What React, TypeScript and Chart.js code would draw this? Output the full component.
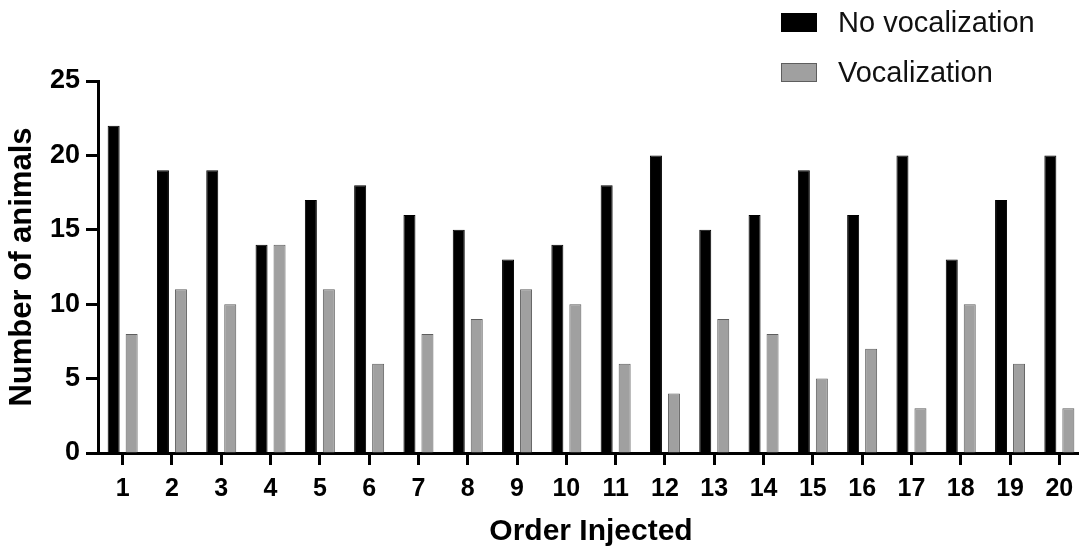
import React, { useEffect, useRef } from "react";
import { Chart, registerables } from "chart.js";

Chart.register(...registerables);

const categories = ["1","2","3","4","5","6","7","8","9","10","11","12","13","14","15","16","17","18","19","20"];
const noVocalization = [22,19,19,14,17,18,16,15,13,14,18,20,15,16,19,16,20,13,17,20];
const vocalization = [8,11,10,14,11,6,8,9,11,10,6,4,9,8,5,7,3,10,6,3];
const seriesNames = ["No vocalization", "Vocalization"];
const yTicks = [0, 5, 10, 15, 20, 25];

const FONT = "'Liberation Sans', Arial, Helvetica, sans-serif";

const legendPlugin = {
  id: "customLegend",
  afterDraw(chart: any) {
    const ctx = chart.ctx;
    ctx.save();
    chart.data.datasets.forEach((ds: any, i: number) => {
      const y = 13 + i * 50;
      ctx.fillStyle = ds.backgroundColor;
      ctx.fillRect(781, y, 36, 19);
      ctx.strokeStyle = ds.borderColor;
      ctx.lineWidth = 1;
      ctx.strokeRect(781.5, y + 0.5, 35, 18);
      ctx.fillStyle = "#111";
      ctx.font = `29px ${FONT}`;
      ctx.textBaseline = "middle";
      ctx.textAlign = "left";
      ctx.fillText(ds.label, 838, y + 11);
    });
    ctx.restore();
  },
};

export default function App() {
  const ref = useRef<HTMLCanvasElement>(null);
  useEffect(() => {
    if (!ref.current) return;
    const chart = new Chart(ref.current, {
      type: "bar",
      data: {
        labels: categories,
        datasets: [
          {
            label: seriesNames[0],
            data: noVocalization,
            backgroundColor: "#000000",
            borderColor: "#000000",
            borderWidth: 1,
          },
          {
            label: seriesNames[1],
            data: vocalization,
            backgroundColor: "#a0a0a0",
            borderColor: "#5e5e5e",
            borderWidth: 1,
          },
        ],
      },
      options: {
        responsive: false,
        animation: false,
        devicePixelRatio: 1,
        layout: { padding: { top: 81, right: 2, left: 0, bottom: 0 } },
        datasets: { bar: { categoryPercentage: 0.73, barPercentage: 0.667 } },
        plugins: { legend: { display: false }, tooltip: { enabled: false } },
        scales: {
          x: {
            grid: {
              display: true,
              drawOnChartArea: false,
              drawTicks: true,
              offset: false,
              tickLength: 12,
              tickWidth: 3,
              tickColor: "#000",
              color: "#000",
            },
            border: { display: true, width: 3, color: "#000" },
            ticks: {
              color: "#000",
              font: { family: FONT, size: 25, weight: "bold" },
              padding: 9,
              maxRotation: 0,
              autoSkip: false,
            },
            title: {
              display: true,
              text: "Order Injected",
              color: "#000",
              font: { family: FONT, size: 30, weight: "bold", lineHeight: 1 },
              padding: { top: 0, bottom: 1 },
            },
            afterFit: (s: any) => {
              s.height = 95;
            },
          },
          y: {
            min: 0,
            max: 25,
            afterBuildTicks: (s: any) => {
              s.ticks = yTicks.map((v) => ({ value: v }));
            },
            grid: {
              display: true,
              drawOnChartArea: false,
              drawTicks: true,
              tickLength: 12,
              tickWidth: 3,
              tickColor: "#000",
              color: "#000",
            },
            border: { display: true, width: 3, color: "#000" },
            ticks: {
              color: "#000",
              font: { family: FONT, size: 27, weight: "bold" },
              padding: 6,
            },
            title: {
              display: true,
              text: "Number of animals",
              color: "#000",
              font: { family: FONT, size: 31, weight: "bold", lineHeight: 1 },
              padding: { top: 7, bottom: 0 },
            },
            afterFit: (s: any) => {
              s.width = 98;
            },
          },
        },
      },
      plugins: [legendPlugin],
    } as any);
    return () => chart.destroy();
  }, []);
  return (
    <div style={{ position: "absolute", left: 0, top: 0, width: 1079, height: 548, overflow: "hidden", background: "#fff" }}>
      <canvas ref={ref} width={1086} height={548} style={{ display: "block" }} />
    </div>
  );
}
